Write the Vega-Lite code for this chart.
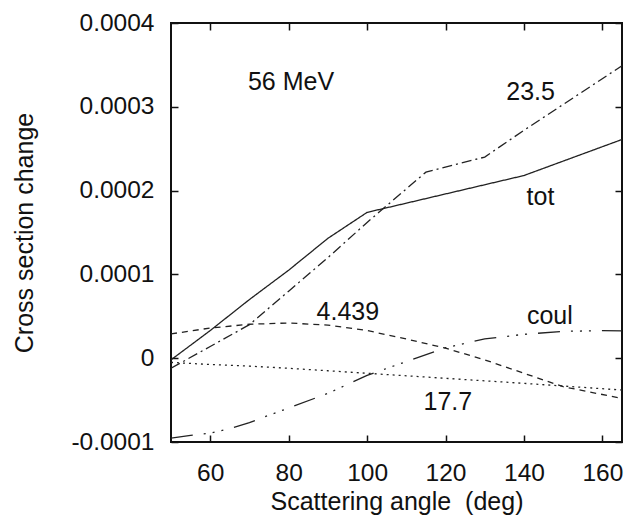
{
  "$schema": "https://vega.github.io/schema/vega-lite/v6.json",
  "width": 451,
  "height": 419,
  "autosize": {"type": "none"},
  "padding": {"left": 171, "top": 23, "right": 8, "bottom": 82},
  "background": "white",
  "config": {
    "font": "Liberation Sans",
    "view": {"stroke": "#111", "strokeWidth": 2},
    "axis": {"labelFont": "Liberation Sans", "titleFont": "Liberation Sans", "labelFontSize": 24.5, "titleFontSize": 25, "labelColor": "#111", "titleColor": "#111", "titleFontWeight": "normal", "grid": false, "domain": false, "tickColor": "#111", "tickWidth": 1.5, "tickSize": -7}
  },
  "datasets": {
    "curves": [
      {"series": "tot", "angle": 50, "value": -0.0000020},
      {"series": "tot", "angle": 60, "value": 0.0000330},
      {"series": "tot", "angle": 70, "value": 0.0000700},
      {"series": "tot", "angle": 80, "value": 0.0001050},
      {"series": "tot", "angle": 90, "value": 0.0001430},
      {"series": "tot", "angle": 100, "value": 0.0001740},
      {"series": "tot", "angle": 120, "value": 0.0001960},
      {"series": "tot", "angle": 140, "value": 0.0002180},
      {"series": "tot", "angle": 165, "value": 0.0002610},
      {"series": "23.5", "angle": 50, "value": -0.0000120},
      {"series": "23.5", "angle": 60, "value": 0.0000140},
      {"series": "23.5", "angle": 70, "value": 0.0000400},
      {"series": "23.5", "angle": 80, "value": 0.0000800},
      {"series": "23.5", "angle": 90, "value": 0.0001200},
      {"series": "23.5", "angle": 100, "value": 0.0001620},
      {"series": "23.5", "angle": 115, "value": 0.0002220},
      {"series": "23.5", "angle": 130, "value": 0.0002400},
      {"series": "23.5", "angle": 140, "value": 0.0002720},
      {"series": "23.5", "angle": 165, "value": 0.0003490},
      {"series": "4.439", "angle": 50, "value": 0.0000290},
      {"series": "4.439", "angle": 60, "value": 0.0000360},
      {"series": "4.439", "angle": 70, "value": 0.0000405},
      {"series": "4.439", "angle": 80, "value": 0.0000420},
      {"series": "4.439", "angle": 90, "value": 0.0000395},
      {"series": "4.439", "angle": 100, "value": 0.0000330},
      {"series": "4.439", "angle": 110, "value": 0.0000230},
      {"series": "4.439", "angle": 120, "value": 0.0000120},
      {"series": "4.439", "angle": 130, "value": -0.0000020},
      {"series": "4.439", "angle": 140, "value": -0.0000180},
      {"series": "4.439", "angle": 150, "value": -0.0000340},
      {"series": "4.439", "angle": 165, "value": -0.0000480},
      {"series": "17.7", "angle": 50, "value": -0.0000050},
      {"series": "17.7", "angle": 60, "value": -0.0000075},
      {"series": "17.7", "angle": 70, "value": -0.0000095},
      {"series": "17.7", "angle": 80, "value": -0.0000120},
      {"series": "17.7", "angle": 90, "value": -0.0000150},
      {"series": "17.7", "angle": 100, "value": -0.0000180},
      {"series": "17.7", "angle": 120, "value": -0.0000240},
      {"series": "17.7", "angle": 140, "value": -0.0000300},
      {"series": "17.7", "angle": 165, "value": -0.0000380},
      {"series": "coul", "angle": 50, "value": -0.0000955},
      {"series": "coul", "angle": 55, "value": -0.0000920},
      {"series": "coul", "angle": 60, "value": -0.0000895},
      {"series": "coul", "angle": 65, "value": -0.0000840},
      {"series": "coul", "angle": 70, "value": -0.0000770},
      {"series": "coul", "angle": 75, "value": -0.0000680},
      {"series": "coul", "angle": 80, "value": -0.0000595},
      {"series": "coul", "angle": 90, "value": -0.0000420},
      {"series": "coul", "angle": 100, "value": -0.0000205},
      {"series": "coul", "angle": 110, "value": -0.0000040},
      {"series": "coul", "angle": 120, "value": 0.0000125},
      {"series": "coul", "angle": 130, "value": 0.0000230},
      {"series": "coul", "angle": 140, "value": 0.0000285},
      {"series": "coul", "angle": 150, "value": 0.0000320},
      {"series": "coul", "angle": 160, "value": 0.0000330},
      {"series": "coul", "angle": 165, "value": 0.0000325}
    ],
    "labels": [
      {"label": "56 MeV", "angle": 80.6, "value": 0.000320},
      {"label": "23.5", "angle": 141.7, "value": 0.000308},
      {"label": "tot", "angle": 144.2, "value": 0.0001826},
      {"label": "4.439", "angle": 95.1, "value": 0.0000452},
      {"label": "coul", "angle": 146.6, "value": 0.0000412},
      {"label": "17.7", "angle": 120.6, "value": -0.0000624}
    ]
  },
  "layer": [
    {
      "data": {"name": "curves"},
      "mark": {"type": "line", "color": "#222", "strokeWidth": 1.3, "clip": true},
      "encoding": {
        "x": {"field": "angle", "type": "quantitative", "scale": {"domain": [50, 165], "nice": false, "zero": false},
          "axis": {"orient": "bottom", "values": [60, 80, 100, 120, 140, 160], "labelPadding": 26, "title": "Scattering angle\u00a0\u00a0(deg)", "titlePadding": 5}},
        "y": {"field": "value", "type": "quantitative", "scale": {"domain": [-0.0001, 0.0004], "nice": false, "zero": false},
          "axis": {"orient": "left", "values": [-0.0001, 0, 0.0001, 0.0002, 0.0003, 0.0004], "labelPadding": 24, "title": "Cross section change", "titlePadding": 33,
            "labelExpr": "abs(datum.value) < 1e-9 ? '0' : (datum.value < 0 ? '-' + format(-datum.value, '.4f') : format(datum.value, '.4f'))"}},
        "strokeDash": {"field": "series", "type": "nominal", "legend": null,
          "scale": {"domain": ["tot", "23.5", "4.439", "17.7", "coul"], "range": [[1, 0], [10, 4, 2, 4], [6, 5], [2, 4], [22, 11, 2, 7, 2, 7, 2, 11]]}},
        "detail": {"field": "series"}
      }
    },
    {
      "data": {"name": "labels"},
      "mark": {"type": "text", "font": "Liberation Sans", "fontSize": 25, "color": "#111", "align": "center", "baseline": "alphabetic"},
      "encoding": {
        "x": {"field": "angle", "type": "quantitative", "axis": {"orient": "top", "values": [60, 80, 100, 120, 140, 160], "labels": false, "title": null}},
        "y": {"field": "value", "type": "quantitative", "axis": {"orient": "right", "values": [-0.0001, 0, 0.0001, 0.0002, 0.0003, 0.0004], "labels": false, "title": null}},
        "text": {"field": "label"}
      }
    }
  ],
  "resolve": {"axis": {"x": "independent", "y": "independent"}}
}
